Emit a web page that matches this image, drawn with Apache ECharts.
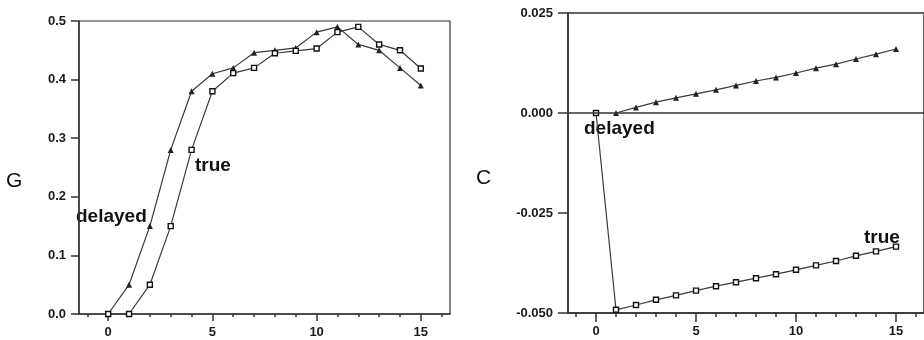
<!DOCTYPE html>
<html>
<head>
<meta charset="utf-8">
<script src="https://cdn.jsdelivr.net/npm/echarts@6/dist/echarts.min.js"></script>
<style>
html,body{margin:0;padding:0;background:#fff;}
#chart{width:924px;height:340px;}
</style>
</head>
<body>
<div id="chart"></div>
<script>
// ---- data ----
var steps = [0,1,2,3,4,5,6,7,8,9,10,11,12,13,14,15];
var gDelayed = [0, 0.05, 0.15, 0.28, 0.38, 0.41, 0.42, 0.446, 0.45, 0.454, 0.481, 0.49, 0.46, 0.45, 0.42, 0.39];
var gTrue = [0, 0, 0.05, 0.15, 0.28, 0.38, 0.411, 0.42, 0.445, 0.449, 0.453, 0.481, 0.49, 0.46, 0.45, 0.419];
var cDelayed = [null, 0, 0.0014, 0.0027, 0.0038, 0.0048, 0.0058, 0.0069, 0.008, 0.0089, 0.01, 0.0112, 0.0122, 0.0135, 0.0147, 0.016];
var cTrue = [0, -0.0492, -0.048, -0.0467, -0.0456, -0.0444, -0.0433, -0.0423, -0.0413, -0.0403, -0.0392, -0.0381, -0.037, -0.0357, -0.0346, -0.0334];
var xMajorTicks = [0, 5, 10, 15];
var gTicks = [0, 0.1, 0.2, 0.3, 0.4, 0.5];
var cTicks = [-0.05, -0.025, 0, 0.025];
var gName = 'G', cName = 'C';
var seriesNames = ['delayed', 'true'];

function pairs(vals){ return steps.map(function(s,i){ return [s, vals[i]]; }); }

var ink = '#333';
var labelFont = {color:'#1a1a1a', fontFamily:'Liberation Sans, Arial, sans-serif', fontWeight:'bold', fontSize:13};

function xAxis(gridIndex, majorLen, minorLen){
  return {type:'value', gridIndex:gridIndex, min:-1.4, max:16.4, splitNumber:3, position:'bottom',
     axisLine:{show:true, onZero:false, lineStyle:{color:ink, width:1.5}},
     axisTick:{show:true, customValues:xMajorTicks, length:majorLen, lineStyle:{color:ink, width:1.5}},
     minorTick:{show:true, splitNumber:5, length:minorLen, lineStyle:{color:ink, width:1.5}},
     axisLabel:Object.assign({customValues:xMajorTicks, margin:12, formatter:function(v){return String(v);}}, labelFont),
     splitLine:{show:false}, minorSplitLine:{show:false}};
}

function yAxis(gridIndex, ticks, digits, tickLen, margin){
  return {type:'value', gridIndex:gridIndex, min:ticks[0], max:ticks[ticks.length-1],
     axisLine:{show:true, onZero:false, lineStyle:{color:ink, width:1.5}},
     axisTick:{show:true, customValues:ticks, length:tickLen, lineStyle:{color:ink, width:1.5}},
     axisLabel:Object.assign({customValues:ticks, margin:margin, formatter:function(v){return v.toFixed(digits);}}, labelFont),
     splitLine:{show:false}};
}

var lineStyle = {color:'#3a3a3a', width:1.2};
var triStyle = {color:'#222'};
var sqStyle = {color:'#fff', borderColor:'#111', borderWidth:1.4};

var option = {
  animation:false,
  backgroundColor:'#fff',
  grid:[
    {left:79, top:21, right:474, bottom:26, show:true, borderColor:ink, borderWidth:1.2, backgroundColor:'transparent'},
    {left:568, top:13, right:-6, bottom:27, show:true, borderColor:ink, borderWidth:1.5, backgroundColor:'transparent'}
  ],
  xAxis:[xAxis(0, 7, 3), xAxis(1, 9, 4)],
  yAxis:[yAxis(0, gTicks, 1, 8, 13), yAxis(1, cTicks, 3, 10, 15)],
  series:[
    {name:seriesNames[0], type:'line', xAxisIndex:0, yAxisIndex:0, data:pairs(gDelayed),
     symbol:'triangle', symbolSize:6, lineStyle:lineStyle, itemStyle:triStyle},
    {name:seriesNames[1], type:'line', xAxisIndex:0, yAxisIndex:0, data:pairs(gTrue),
     symbol:'rect', symbolSize:5, lineStyle:lineStyle, itemStyle:sqStyle},
    {name:seriesNames[0], type:'line', xAxisIndex:1, yAxisIndex:1, data:pairs(cDelayed),
     symbol:'triangle', symbolSize:6, lineStyle:lineStyle, itemStyle:triStyle,
     markLine:{silent:true, symbol:['none','none'], label:{show:false},
       lineStyle:{color:ink, width:1.5, type:'solid'}, data:[{yAxis:0}]}},
    {name:seriesNames[1], type:'line', xAxisIndex:1, yAxisIndex:1, data:pairs(cTrue),
     symbol:'rect', symbolSize:5, lineStyle:lineStyle, itemStyle:sqStyle}
  ],
  graphic:[
    {type:'text', left:6, top:171, style:{text:gName, font:'21px Liberation Sans, Arial, sans-serif', fill:'#111'}},
    {type:'text', left:476, top:168, style:{text:cName, font:'21px Liberation Sans, Arial, sans-serif', fill:'#111'}},
    {type:'text', left:195, top:156, style:{text:seriesNames[1], font:'bold 19px Liberation Sans, Arial, sans-serif', fill:'#111'}},
    {type:'text', left:76, top:207, style:{text:seriesNames[0], font:'bold 19px Liberation Sans, Arial, sans-serif', fill:'#111'}},
    {type:'text', left:584, top:119, style:{text:seriesNames[0], font:'bold 19px Liberation Sans, Arial, sans-serif', fill:'#111'}},
    {type:'text', left:864, top:228, style:{text:seriesNames[1], font:'bold 19px Liberation Sans, Arial, sans-serif', fill:'#111'}}
  ]
};

var chart = echarts.init(document.getElementById('chart'), null, {renderer:'canvas'});
chart.setOption(option);
</script>
</body>
</html>
